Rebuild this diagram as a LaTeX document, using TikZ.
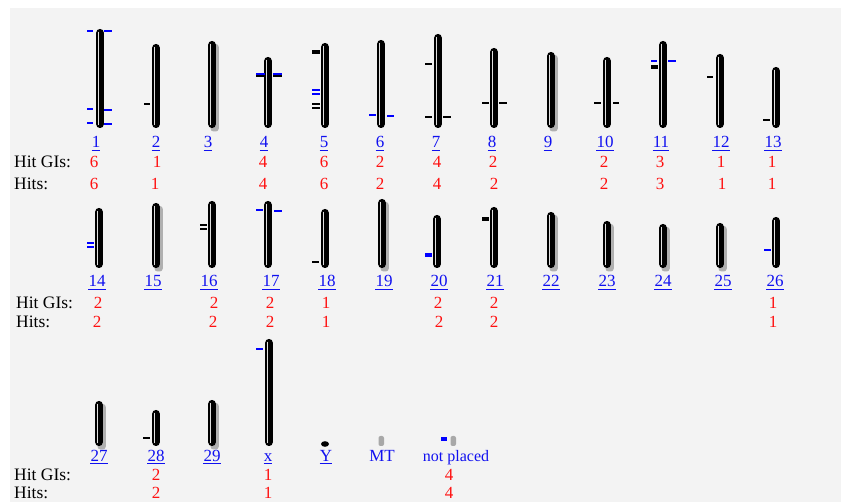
\documentclass[tikz,border=0pt]{standalone}
\usepackage{fontspec}
\setmainfont{Liberation Serif}
\definecolor{bggray}{HTML}{F3F3F3}
\definecolor{linkblue}{HTML}{1010F0}
\definecolor{tickblue}{HTML}{0000FF}
\definecolor{valred}{HTML}{FF1010}
\definecolor{stripe}{HTML}{E0E0E0}
\definecolor{shadowgray}{HTML}{B0B0B0}
\definecolor{smallgray}{HTML}{A8A8A8}
\newcommand{\chromo}[4]{%
  \ifnum#4=1 \fill[shadowgray, rounded corners=3pt] (#1-1.5,#2+3) rectangle (#1+6.8,#3+3.5); \fi
  \fill[black, rounded corners=3.6pt] (#1-3.8,#2) rectangle (#1+3.8,#3);
  \draw[stripe, line width=1.4pt, line cap=round] (#1-1.8,#2+3.5) -- (#1-1.8,#3-3.5);}
\begin{document}
\begin{tikzpicture}[x=1pt,y=-1pt,
  txt/.style={inner sep=0pt, font=\fontsize{17}{20}\selectfont},
  lab/.style={txt, text=linkblue, anchor=base},
  val/.style={txt, text=valred, anchor=base},
  head/.style={txt, text=black, anchor=base west, font=\fontsize{17.5}{20}\selectfont},
  ul/.style={draw=linkblue, line width=1.5pt},
  thin/.style={line width=2pt},
  dbl/.style={line width=1.6pt},
  thick/.style={line width=4pt}]
\useasboundingbox (0,0) rectangle (841,502);
\fill[white] (0,0) rectangle (841,502);
\fill[bggray] (10,8) rectangle (841,502);
% chromosomes
\foreach \x/\t/\s in {100/29/0,156/44/0,212/41/1,268/57/0,325/43/0,381/40/0,438/34/0,494/48/0,551/52/1,607/57/0,663/41/0,720/54/0,776/67/0}
  {\chromo{\x}{\t}{128}{\s}}
\foreach \x/\t/\s in {99/208/0,156/203/1,212/201/0,268/201/0,325/209/0,382/199/1,437/215/0,494/207/0,551/212/1,607/221/1,663/224/1,720/223/1,776/217/0}
  {\chromo{\x}{\t}{268}{\s}}
\foreach \x/\t/\s in {99/401/1,156/410/0,212/400/1,269/339/0}
  {\chromo{\x}{\t}{446}{\s}}
% Y, MT, not placed
\fill[black] (325,444) ellipse [x radius=4, y radius=2.8];
\fill[smallgray, rounded corners=2pt] (378.5,436) rectangle (384,446);
\fill[smallgray, rounded corners=2pt] (450.5,436) rectangle (456,446);
% ticks
\foreach \a/\b/\y in {87/93/31,104/112/31,87/93/109,104/112/110,87/93/123,104/112/124,369/376/115,387/394/116,651/657/61,668/676/61,256/263/210,274/282/211,764/771/250,256/263/349}
  {\draw[tickblue, thin] (\a,\y) -- (\b,\y);}
\foreach \a/\b/\y in {144/150/104,425/432/64,425/432/117,443/451/117,482/489/103,499/507/103,594/601/103,613/619/103,707/713/77,763/770/120,312/319/262,143/150/438}
  {\draw[black, thin] (\a,\y) -- (\b,\y);}
\foreach \a/\b/\y in {312/320/90,312/320/94,87/94/243,87/94/247}
  {\draw[tickblue, dbl] (\a,\y) -- (\b,\y);}
\foreach \a/\b/\y in {312/320/104,312/320/108,200/207/225,200/207/229}
  {\draw[black, dbl] (\a,\y) -- (\b,\y);}
\foreach \a/\b in {256/265,273/282}
  {\draw[tickblue, line width=2pt] (\a,74) -- (\b,74);
   \draw[black, line width=2pt] (\a,76) -- (\b,76);}
\draw[black, thick] (312,52) -- (320,52);
\draw[black, thick] (651,67) -- (658,67);
\draw[black, thick] (482,219) -- (489,219);
\draw[tickblue, thick] (425,255) -- (432,255);
\draw[tickblue, thick] (441,439) -- (447,439);
% chromosome labels
\foreach \n/\x in {1/96,2/156,3/208,4/264,5/324,6/380,7/436,8/492,9/548,10/605,11/661,12/721,13/773}
  {\node[lab] (L\n) at (\x,148) {\n};
   \draw[ul] ([yshift=-2.6pt]L\n.base west) -- ([yshift=-2.6pt]L\n.base east);}
\foreach \n/\x in {14/97,15/153,16/209,17/271,18/327,19/384,20/439,21/495,22/551,23/607,24/663,25/723,26/775}
  {\node[lab] (L\n) at (\x,287) {\n};
   \draw[ul] ([yshift=-2.6pt]L\n.base west) -- ([yshift=-2.6pt]L\n.base east);}
\foreach \n/\x in {27/99,28/156,29/212,x/268,Y/326}
  {\node[lab] (L\n) at (\x,461) {\n};
   \draw[ul] ([yshift=-2.6pt]L\n.base west) -- ([yshift=-2.6pt]L\n.base east);}
\node[lab] (LMT) at (382,461) {MT};
\node[lab, font=\fontsize{16}{19}\selectfont] (Lnp) at (456,461) {not placed};
% row headers
\node[head] (g1) at (14,168) {Hit GIs:};
\node[head] (h1) at (14,190) {Hits:};
\node[head] (g2) at (16,309) {Hit GIs:};
\node[head] (h2) at (16,328) {Hits:};
\node[head] (g3) at (14,480) {Hit GIs:};
\node[head] (h3) at (14,498) {Hits:};
% values
\foreach \x/\v [count=\i] in {94/6,157/1,263/4,324/6,380/2,437/4,493/2,604/2,660/3,721/1,772/1}
  {\node[val] (ga\i) at (\x,168) {\v};}
\foreach \x/\v [count=\i] in {94/6,155/1,263/4,324/6,380/2,437/4,494/2,604/2,660/3,722/1,772/1}
  {\node[val] (ha\i) at (\x,190) {\v};}
\foreach \x/\v [count=\i] in {98/2,214/2,270/2,326/1,438/2,494/2,773/1}
  {\node[val] (gb\i) at (\x,309) {\v};}
\foreach \x/\v [count=\i] in {97/2,213/2,270/2,326/1,439/2,494/2,773/1}
  {\node[val] (hb\i) at (\x,328) {\v};}
\foreach \x/\v [count=\i] in {156/2,268/1,449/4}
  {\node[val] (gc\i) at (\x,480) {\v};}
\foreach \x/\v [count=\i] in {156/2,268/1,449/4}
  {\node[val] (hc\i) at (\x,498) {\v};}
\end{tikzpicture}
\end{document}
